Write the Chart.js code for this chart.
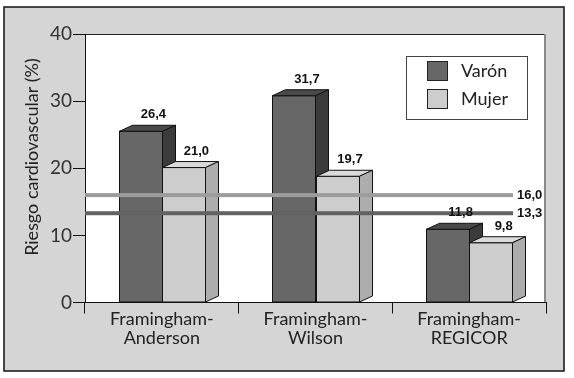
<!DOCTYPE html>
<html>
<head>
<meta charset="utf-8">
<script src="https://cdn.jsdelivr.net/npm/chart.js@4"></script>
<style>
  html, body { margin:0; padding:0; background:#fff; }
  #wrap { width:574px; height:378px; }
</style>
</head>
<body>
<div id="wrap"><canvas id="chart" width="574" height="378"></canvas></div>
<script>
const categories = [['Framingham-','Anderson'], ['Framingham-','Wilson'], ['Framingham-','REGICOR']];
const seriesNames = ['Varón', 'Mujer'];
const varon = [26.4, 31.7, 11.8];
const mujer = [21.0, 19.7, 9.8];
const refValues = [16.0, 13.3];
const refLabels = ['16,0', '13,3'];
const yTicks = [0, 10, 20, 30, 40];

const FONT = 'Lato, "Liberation Sans", sans-serif';
const DX = 13, DY = 6;   // fake 3D depth

const palette = [
  { front:'#676767', top:'#4a4a4a', side:'#3b3b3b' },
  { front:'#cdcdcd', top:'#dadada', side:'#adadad' }
];
const refColors = ['#9c9c9c', '#626262'];

function fmt(v){ return v.toFixed(1).replace('.', ','); }

const framePlugin = {
  id:'frame',
  beforeDraw(chart){
    const { ctx, chartArea:a } = chart;
    ctx.save();
    ctx.fillStyle = '#fff';
    ctx.fillRect(0, 0, chart.width, chart.height);
    ctx.fillStyle = '#d5d5d5';
    ctx.fillRect(4, 7, 560, 364);
    ctx.strokeStyle = '#111';
    ctx.lineWidth = 1.5;
    ctx.strokeRect(4, 7, 560, 364);
    ctx.fillStyle = '#fff';
    ctx.fillRect(a.left, a.top, a.right - a.left, a.bottom - a.top);
    ctx.strokeStyle = '#222';
    ctx.lineWidth = 1;
    ctx.beginPath();
    ctx.moveTo(a.left, a.top + 0.5); ctx.lineTo(a.right, a.top + 0.5);
    ctx.stroke();
    ctx.strokeStyle = '#8a8a8a';
    ctx.lineWidth = 2;
    ctx.beginPath();
    ctx.moveTo(a.right - 1, a.top); ctx.lineTo(a.right - 1, a.bottom);
    ctx.stroke();
    ctx.restore();
  }
};

function drawBox(ctx, x0, x1, yVal, yBase, c){
  const ft = yVal + DY;
  ctx.lineWidth = 1;
  ctx.strokeStyle = '#111';
  ctx.fillStyle = c.front;
  ctx.fillRect(x0, ft, x1 - x0, yBase - ft);
  ctx.strokeRect(x0, ft, x1 - x0, yBase - ft);
  ctx.fillStyle = c.top;
  ctx.beginPath();
  ctx.moveTo(x0, ft); ctx.lineTo(x0 + DX, ft - DY); ctx.lineTo(x1 + DX, ft - DY); ctx.lineTo(x1, ft);
  ctx.closePath(); ctx.fill(); ctx.stroke();
  ctx.fillStyle = c.side;
  ctx.beginPath();
  ctx.moveTo(x1, ft); ctx.lineTo(x1 + DX, ft - DY); ctx.lineTo(x1 + DX, yBase - DY); ctx.lineTo(x1, yBase);
  ctx.closePath(); ctx.fill(); ctx.stroke();
}

const barsPlugin = {
  id:'bars3d',
  afterDatasetsDraw(chart){
    const { ctx, chartArea:a, scales } = chart;
    ctx.save();
    chart.data.datasets.forEach((ds, di) => {
      chart.getDatasetMeta(di).data.forEach(bar => {
        const p = bar.getProps(['x','y','base','width'], true);
        drawBox(ctx, Math.round(p.x - p.width/2) + 0.5, Math.round(p.x + p.width/2) + 0.5, p.y, p.base, palette[di]);
      });
    });
    // reference lines
    refValues.forEach((v, i) => {
      const y = scales.y.getPixelForValue(v);
      ctx.fillStyle = refColors[i];
      ctx.fillRect(a.left, y - 2, 513 - a.left, 4);
      ctx.fillStyle = '#111';
      ctx.font = 'bold 13px "Liberation Sans", Arial, sans-serif';
      ctx.textAlign = 'left';
      ctx.textBaseline = 'middle';
      ctx.fillText(refLabels[i], 517, y);
    });
    // value labels
    ctx.font = 'bold 13px "Liberation Sans", Arial, sans-serif';
    ctx.textAlign = 'center';
    ctx.textBaseline = 'alphabetic';
    ctx.fillStyle = '#111';
    chart.data.datasets.forEach((ds, di) => {
      chart.getDatasetMeta(di).data.forEach((bar, i) => {
        const p = bar.getProps(['x','y'], true);
        ctx.fillText(fmt(ds.data[i]), p.x + DX, p.y - 7);
      });
    });
    // y title
    ctx.save();
    ctx.translate(32, 157);
    ctx.rotate(-Math.PI/2);
    ctx.font = '18px ' + FONT;
    ctx.fillStyle = '#222';
    ctx.textAlign = 'center';
    ctx.textBaseline = 'middle';
    ctx.fillText('Riesgo cardiovascular (%)', 0, 0);
    ctx.restore();
    // legend
    ctx.fillStyle = '#fff';
    ctx.fillRect(406.5, 56.5, 121, 63);
    ctx.strokeStyle = '#444';
    ctx.strokeRect(406.5, 56.5, 121, 63);
    chart.data.datasets.forEach((ds, di) => {
      const y = 61.5 + di * 28;
      ctx.fillStyle = palette[di].front;
      ctx.fillRect(427.5, y, 20, 19);
      ctx.strokeStyle = '#222';
      ctx.strokeRect(427.5, y, 20, 19);
      ctx.fillStyle = '#222';
      ctx.font = '18px ' + FONT;
      ctx.textAlign = 'left';
      ctx.textBaseline = 'middle';
      ctx.fillText(ds.label, 461, y + 10);
    });
    ctx.restore();
  }
};

new Chart(document.getElementById('chart'), {
  type:'bar',
  data:{
    labels: categories,
    datasets:[
      { label: seriesNames[0], data: varon, backgroundColor:'rgba(0,0,0,0)', borderWidth:0 },
      { label: seriesNames[1], data: mujer, backgroundColor:'rgba(0,0,0,0)', borderWidth:0 }
    ]
  },
  options:{
    responsive:false,
    animation:false,
    events:[],
    layout:{ padding:{ left:0, top:34, right:28, bottom:0 } },
    datasets:{ bar:{ categoryPercentage:0.56, barPercentage:1 } },
    plugins:{ legend:{ display:false }, tooltip:{ enabled:false } },
    scales:{
      x:{
        grid:{ offset:true, drawOnChartArea:false, color:'#111', tickLength:11, lineWidth:1 },
        border:{ color:'#111', width:1 },
        ticks:{ color:'#222', font:{ family:FONT, size:18, lineHeight:1.05 }, padding:-4, maxRotation:0, autoSkip:false },
        afterFit(s){ s.height = 75.5; }
      },
      y:{
        min:0, max:40,
        afterBuildTicks(s){ s.ticks = yTicks.map(v => ({ value:v })); },
        grid:{ drawOnChartArea:false, color:'#111', tickLength:12, lineWidth:1 },
        border:{ color:'#111', width:1 },
        ticks:{ color:'#333', font:{ family:FONT, size:19 }, padding:1 },
        afterFit(s){ s.width = 85; }
      }
    }
  },
  plugins:[framePlugin, barsPlugin]
});
</script>
</body>
</html>
